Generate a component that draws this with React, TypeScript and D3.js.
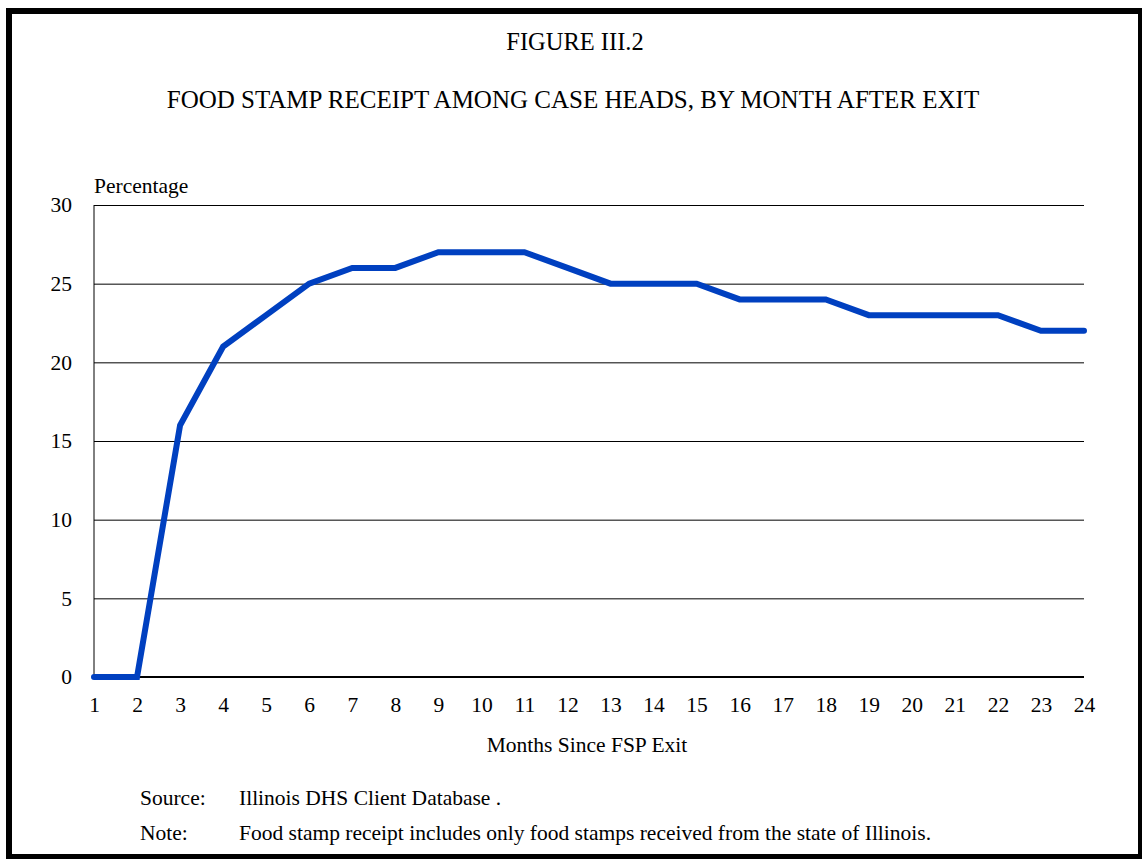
import { useRef, useEffect } from "react";
import * as d3 from "d3";

const months = d3.range(1, 25);
const receipt = [0, 0, 16, 21, 23, 25, 26, 26, 27, 27, 27, 26, 25, 25, 25, 24, 24, 24, 23, 23, 23, 23, 22, 22];
const yTicks = [0, 5, 10, 15, 20, 25, 30];

const App = () => {
  const svgRef = useRef<SVGSVGElement>(null);

  useEffect(() => {
    const width = 1142;
    const height = 859;
    const serif = "'Liberation Serif', 'Times New Roman', serif";
    const svg = d3.select(svgRef.current)
      .attr("width", width).attr("height", height)
      .style("font-family", serif);
    svg.selectAll("*").remove();

    // rahmen
    svg.append("rect")
      .attr("x", 9).attr("y", 11).attr("width", 1132).attr("height", 846)
      .attr("fill", "white").attr("stroke", "black").attr("stroke-width", 6);

    const x = d3.scaleLinear().domain([1, 24]).range([94, 1084]);
    const y = d3.scaleLinear().domain([0, 30]).range([677, 205]);

    // titel
    svg.append("text").text("FIGURE III.2")
      .attr("x", 575).attr("y", 50).attr("text-anchor", "middle").attr("font-size", 24.5);
    svg.append("text").text("FOOD STAMP RECEIPT AMONG CASE HEADS, BY MONTH AFTER EXIT")
      .attr("x", 573).attr("y", 108).attr("text-anchor", "middle").attr("font-size", 25);

    // gitter
    svg.append("g")
      .attr("transform", "translate(94,0)")
      .call(d3.axisLeft(y).tickValues(yTicks).tickSize(-(1084 - 94)).tickFormat(() => ""))
      .call(g => g.select(".domain").remove())
      .call(g => g.selectAll(".tick line").attr("stroke", "black").attr("stroke-width", 1));

    // achsen
    svg.append("line").attr("x1", 94).attr("x2", 94).attr("y1", y(30)).attr("y2", y(0))
      .attr("stroke", "black").attr("stroke-width", 1);
    svg.append("line").attr("x1", 94).attr("x2", 1084).attr("y1", y(0)).attr("y2", y(0))
      .attr("stroke", "black").attr("stroke-width", 2);

    svg.append("g")
      .attr("transform", "translate(94,0)")
      .call(d3.axisLeft(y).tickValues(yTicks).tickSize(0).tickPadding(22))
      .call(g => g.select(".domain").remove())
      .selectAll("text")
        .attr("fill", "black").attr("font-size", 21.5).attr("font-family", serif);

    svg.append("g")
      .attr("transform", `translate(0,${y(0)})`)
      .call(d3.axisBottom(x).tickValues(months).tickSize(0).tickPadding(20).tickFormat(d3.format("d")))
      .call(g => g.select(".domain").remove())
      .selectAll("text")
        .attr("fill", "black").attr("font-size", 21.5).attr("font-family", serif);

    svg.append("text").text("Percentage")
      .attr("x", 94).attr("y", 193).attr("font-size", 21.5);
    svg.append("text").text("Months Since FSP Exit")
      .attr("x", 587).attr("y", 752).attr("text-anchor", "middle").attr("font-size", 21.5);

    // linie
    const line = d3.line<number>().x((d, i) => x(months[i])).y(d => y(d));
    svg.append("path")
      .datum(receipt)
      .attr("d", line)
      .attr("fill", "none")
      .attr("stroke", "#0040C0")
      .attr("stroke-width", 6)
      .attr("stroke-linecap", "round")
      .attr("stroke-linejoin", "miter");

    // quelle
    const notes = [
      ["Source:", "Illinois DHS Client Database ."],
      ["Note:", "Food stamp receipt includes only food stamps received from the state of Illinois."],
    ];
    notes.forEach(([label, body], i) => {
      svg.append("text").text(label).attr("x", 140).attr("y", 805 + i * 35).attr("font-size", 21.5);
      svg.append("text").text(body).attr("x", 239).attr("y", 805 + i * 35).attr("font-size", 21.5);
    });
  }, []);

  return <svg ref={svgRef} style={{ display: "block", position: "absolute", left: 0, top: 0 }}></svg>;
};

export default App;
